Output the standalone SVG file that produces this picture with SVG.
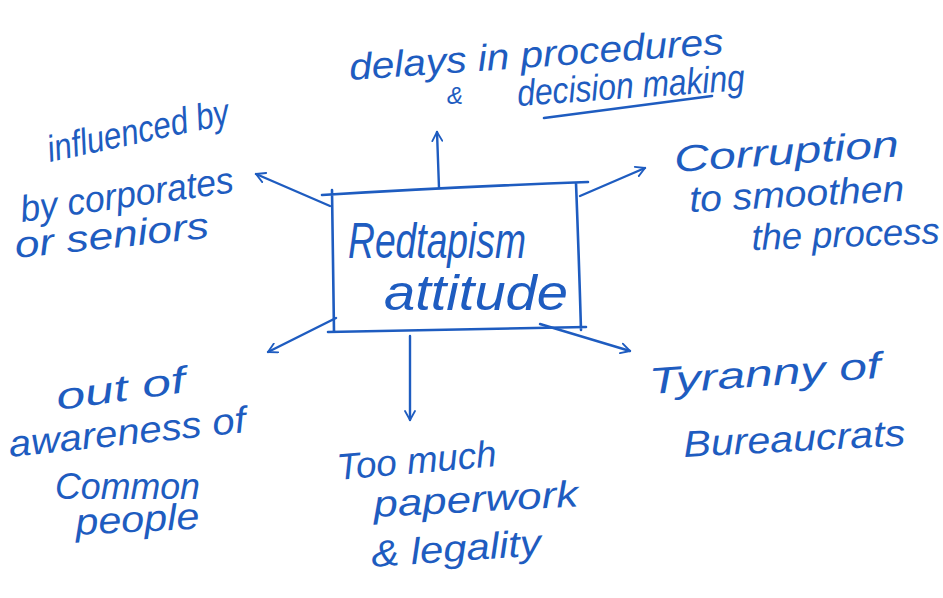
<svg xmlns="http://www.w3.org/2000/svg" width="943" height="598" viewBox="0 0 943 598">
  <defs>
    <marker id="head" viewBox="0 0 12 12" refX="10" refY="6" markerWidth="12" markerHeight="12" markerUnits="userSpaceOnUse" orient="auto">
      <path d="M1,1 L10,6 L1,11" fill="none" stroke="#1e5cc0" stroke-width="1.8" stroke-linecap="round" stroke-linejoin="round"/>
    </marker>
  </defs>
  <style>
    .ink { fill: none; stroke: #1e5cc0; stroke-width: 2.6; stroke-linecap: round; stroke-linejoin: round; }
    .arrow { fill: none; stroke: #1e5cc0; stroke-width: 2.4; stroke-linecap: round; marker-end: url(#head); }
    text { font-family: "Liberation Sans", "DejaVu Sans", sans-serif; font-style: italic; fill: #1e5cc0; }
    .t { font-size: 37px; }
    .c { font-size: 50px; }
  </style>
  <rect width="943" height="598" fill="#ffffff"/>

  <!-- centre box -->
  <g id="centre">
    <path class="ink" d="M322,195 Q450,187 588,182 M332,190 L334,332 M576,183 Q579,260 581,330 M328,332 Q460,330 586,327"/>
    <text class="c" x="348" y="258" textLength="178" lengthAdjust="spacingAndGlyphs">Redtapism</text>
    <text class="c" x="384" y="310" textLength="184" lengthAdjust="spacingAndGlyphs">attitude</text>
  </g>

  <!-- connectors -->
  <g id="connectors">
    <path class="arrow" d="M439,188 L437,132"/>
    <path class="arrow" d="M330,206 L256,174"/>
    <path class="arrow" d="M580,196 L645,168"/>
    <path class="arrow" d="M336,318 L268,352"/>
    <path class="arrow" d="M410,336 L410,420"/>
    <path class="arrow" d="M540,324 L630,351"/>
  </g>

  <g id="delays">
    <text class="t" x="350" y="80" textLength="375" lengthAdjust="spacingAndGlyphs" transform="rotate(-4 350 80)">delays in procedures</text>
    <text x="447" y="104" style="font-size:24px">&amp;</text>
    <text class="t" x="518" y="106" textLength="228" lengthAdjust="spacingAndGlyphs" transform="rotate(-4 518 106)">decision making</text>
    <path class="ink" d="M544,118 Q620,108 712,96"/>
  </g>

  <g id="influenced">
    <text class="t" x="50" y="162" textLength="185" lengthAdjust="spacingAndGlyphs" transform="rotate(-12 50 162)">influenced by</text>
    <text class="t" x="22" y="222" textLength="215" lengthAdjust="spacingAndGlyphs" transform="rotate(-8 22 222)">by corporates</text>
    <text class="t" x="16" y="258" textLength="195" lengthAdjust="spacingAndGlyphs" transform="rotate(-6 16 258)">or seniors</text>
  </g>

  <g id="corruption">
    <text class="t" x="675" y="172" textLength="225" lengthAdjust="spacingAndGlyphs" transform="rotate(-4 675 172)">Corruption</text>
    <text class="t" x="690" y="212" textLength="215" lengthAdjust="spacingAndGlyphs" transform="rotate(-3 690 212)">to smoothen</text>
    <text class="t" x="752" y="250" textLength="188" lengthAdjust="spacingAndGlyphs" transform="rotate(-2 752 250)">the process</text>
  </g>

  <g id="awareness">
    <text class="t" x="58" y="410" textLength="130" lengthAdjust="spacingAndGlyphs" transform="rotate(-8 58 410)">out of</text>
    <text class="t" x="10" y="457" textLength="238" lengthAdjust="spacingAndGlyphs" transform="rotate(-6 10 457)">awareness of</text>
    <text class="t" x="55" y="499" textLength="145" lengthAdjust="spacingAndGlyphs">Common</text>
    <text class="t" x="76" y="535" textLength="124" lengthAdjust="spacingAndGlyphs" transform="rotate(-3 76 535)">people</text>
  </g>

  <g id="paperwork">
    <text class="t" x="338" y="480" textLength="160" lengthAdjust="spacingAndGlyphs" transform="rotate(-5 338 480)">Too much</text>
    <text class="t" x="374" y="517" textLength="205" lengthAdjust="spacingAndGlyphs" transform="rotate(-3 374 517)">paperwork</text>
    <text class="t" x="372" y="567" textLength="170" lengthAdjust="spacingAndGlyphs" transform="rotate(-4 372 567)">&amp; legality</text>
  </g>

  <g id="tyranny">
    <text class="t" x="650" y="394" textLength="232" lengthAdjust="spacingAndGlyphs" transform="rotate(-4 650 394)">Tyranny of</text>
    <text class="t" x="684" y="457" textLength="222" lengthAdjust="spacingAndGlyphs" transform="rotate(-3 684 457)">Bureaucrats</text>
  </g>
</svg>
